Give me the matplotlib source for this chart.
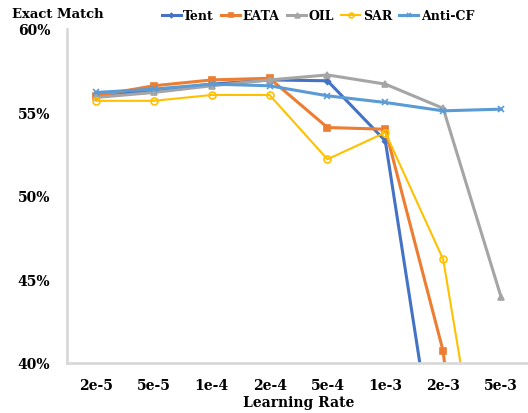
import matplotlib
matplotlib.use("Agg")
import matplotlib.pyplot as plt

lrs = ["2e-5", "5e-5", "1e-4", "2e-4", "5e-4", "1e-3", "2e-3", "5e-3"]
tent = [56.05, 56.3, 56.7, 56.95, 56.9, 53.3, 31.0, None]
eata = [56.0, 56.6, 56.95, 57.05, 54.1, 54.0, 40.7, 10.0]
oil = [55.9, 56.2, 56.6, 56.95, 57.25, 56.7, 55.25, 43.95]
sar = [55.7, 55.7, 56.05, 56.05, 52.2, 53.8, 46.2, 25.5]
anticf = [56.2, 56.4, 56.7, 56.6, 56.0, 55.6, 55.1, 55.2]

plt.rcParams["font.family"] = ["DejaVu Serif"]
plt.rcParams["font.weight"] = "bold"

fig = plt.figure(figsize=(5.28, 4.14), dpi=100)
ax = fig.add_axes([67 / 528, 50 / 414, 463 / 528, 334 / 414])

x = list(range(len(lrs)))
series = [
    ("Tent", tent, "#4472C4", "D", 2.2, 3, True),
    ("EATA", eata, "#ED7D31", "s", 2.2, 4.5, True),
    ("OIL", oil, "#A5A5A5", "^", 2.2, 5, True),
    ("SAR", sar, "#FFC000", "o", 1.5, 5, False),
    ("Anti-CF", anticf, "#5B9BD5", "x", 2.2, 5, True),
]
for name, vals, col, mk, lw, ms, filled in series:
    xs = [i for i, v in zip(x, vals) if v is not None]
    ys = [v for v in vals if v is not None]
    ax.plot(xs, ys, color=col, lw=lw, marker=mk, ms=ms, label=name,
            markerfacecolor=col if filled else "none", markeredgecolor=col,
            markeredgewidth=1.2)

ax.set_xlim(-0.5, 7.5)
ax.set_ylim(40, 60)
ax.set_xticks(x)
ax.set_xticklabels(lrs)
ax.set_yticks([40, 45, 50, 55, 60])
ax.set_yticklabels(["40%", "45%", "50%", "55%", "60%"])
ax.tick_params(length=0, labelsize=10, pad=11)
ax.tick_params(axis="y", pad=12)
for s in ["top", "right"]:
    ax.spines[s].set_visible(False)
for s in ["left", "bottom"]:
    ax.spines[s].set_color("#D9D9D9")
    ax.spines[s].set_linewidth(2)

ax.set_xlabel("Learning Rate", fontsize=10, fontweight="bold", labelpad=2)
fig.text(12 / 528, 1 - 15 / 414, "Exact Match", fontsize=9.5, fontweight="bold",
         va="center", ha="left")
ax.legend(loc="center", bbox_to_anchor=(318 / 528, 1 - 17 / 414),
          bbox_transform=fig.transFigure, ncol=5, frameon=False,
          fontsize=9, handlelength=1.5, handletextpad=0.2, columnspacing=0.6,
          markerscale=0.7)

fig.savefig("out.png", dpi=100)
